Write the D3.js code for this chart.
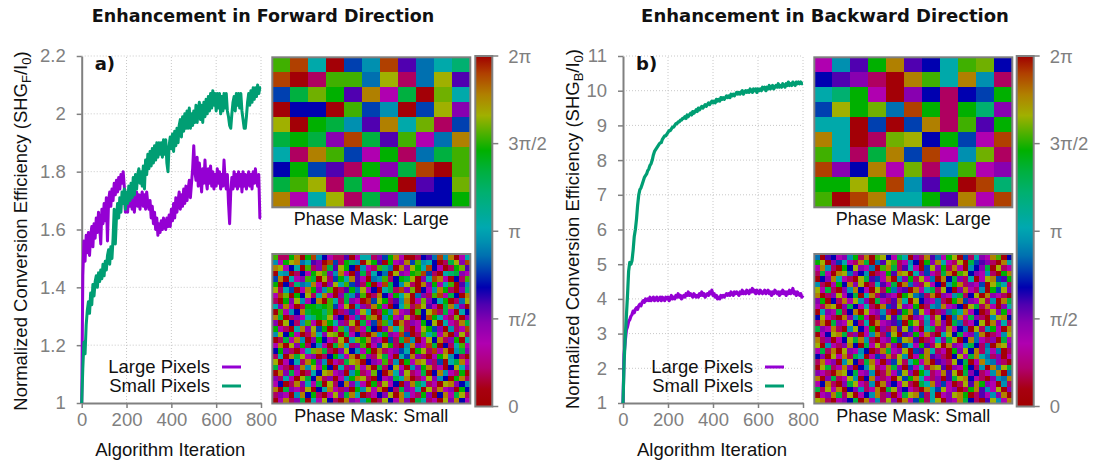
<!DOCTYPE html>
<html><head><meta charset="utf-8">
<script src="https://cdn.jsdelivr.net/npm/d3@7"></script>
<style>
html,body{margin:0;padding:0;background:#fff;}
svg{display:block;font-family:"Liberation Sans",Arial,sans-serif;}
</style></head><body>
<svg id="chart" width="1096" height="466"></svg>
<script>
// ---------- data ----------
const iterations = d3.range(0, 801, 5);

// Forward direction, normalized SHG efficiency
const fwdLarge = [
1.00,1.44,1.56,1.49,1.58,1.52,1.59,1.51,1.58,1.61,
1.54,1.62,1.57,1.64,1.59,1.66,1.61,1.55,1.67,1.62,
1.69,1.63,1.71,1.56,1.70,1.73,1.68,1.74,1.70,1.76,
1.72,1.77,1.73,1.78,1.74,1.79,1.76,1.80,1.75,1.66,
1.71,1.66,1.72,1.68,1.73,1.67,1.72,1.66,1.71,1.73,
1.68,1.72,1.67,1.71,1.73,1.68,1.72,1.67,1.73,1.69,
1.67,1.70,1.64,1.68,1.62,1.66,1.60,1.64,1.58,1.62,
1.59,1.63,1.60,1.64,1.61,1.60,1.64,1.61,1.65,1.61,
1.67,1.63,1.69,1.64,1.71,1.66,1.70,1.73,1.67,1.72,
1.68,1.74,1.69,1.75,1.70,1.74,1.77,1.71,1.76,1.81,
1.89,1.80,1.77,1.85,1.75,1.83,1.78,1.73,1.81,1.76,
1.84,1.77,1.74,1.81,1.76,1.82,1.75,1.80,1.74,1.79,
1.75,1.81,1.76,1.80,1.74,1.79,1.75,1.84,1.77,1.74,
1.79,1.69,1.62,1.73,1.78,1.74,1.80,1.75,1.79,1.74,
1.80,1.75,1.79,1.73,1.80,1.75,1.79,1.74,1.78,1.80,
1.75,1.79,1.74,1.80,1.76,1.81,1.77,1.75,1.79,1.64,1.64];
const fwdSmall = [
1.00,1.12,1.21,1.17,1.27,1.32,1.35,1.31,1.38,1.34,
1.41,1.37,1.42,1.44,1.40,1.45,1.42,1.46,1.43,1.48,
1.44,1.49,1.46,1.51,1.53,1.48,1.54,1.50,1.57,1.67,
1.55,1.64,1.69,1.64,1.71,1.66,1.73,1.69,1.74,1.67,
1.73,1.69,1.75,1.70,1.76,1.71,1.78,1.72,1.79,1.74,
1.79,1.81,1.76,1.80,1.75,1.82,1.74,1.84,1.79,1.86,
1.81,1.87,1.82,1.88,1.83,1.89,1.84,1.90,1.85,1.90,
1.86,1.90,1.85,1.91,1.86,1.91,1.83,1.80,1.89,1.92,
1.88,1.93,1.87,1.94,1.89,1.95,1.90,1.96,1.98,1.92,
1.99,1.94,2.00,1.95,2.01,1.95,2.02,1.95,2.00,1.96,
2.01,1.97,2.03,1.97,2.01,2.04,1.98,2.03,1.97,2.04,
1.99,2.05,2.00,2.06,2.01,2.07,2.02,2.08,2.03,2.07,
2.01,2.07,2.02,2.07,2.00,2.06,2.01,2.07,2.02,2.07,
2.01,1.99,1.96,1.95,2.00,2.04,2.06,2.01,2.07,2.03,
2.07,2.02,2.07,2.01,1.98,1.95,1.95,1.99,2.04,2.07,
2.03,2.08,2.04,2.09,2.05,2.09,2.06,2.10,2.07,2.09,2.09];

// Backward direction, normalized SHG efficiency
const bwdLarge = [
1.00,2.40,2.80,3.10,3.20,3.35,3.40,3.50,3.55,3.65,
3.60,3.70,3.75,3.70,3.80,3.85,3.80,3.90,3.95,3.90,
4.00,3.95,4.00,3.95,4.05,3.95,4.00,4.05,3.95,4.00,
4.05,3.95,4.00,4.05,3.95,4.05,4.00,3.95,4.05,4.00,
4.05,3.95,4.00,4.10,4.00,4.05,4.00,4.10,4.05,4.15,
4.05,4.10,4.00,4.05,4.10,4.05,4.15,4.10,4.20,4.10,
4.15,4.10,4.05,4.15,4.10,4.05,4.10,4.05,4.15,4.10,
4.20,4.10,4.15,4.05,4.10,4.15,4.10,4.20,4.15,4.25,
4.10,4.15,4.05,4.10,4.00,4.05,4.00,4.10,4.05,4.10,
4.05,4.10,4.15,4.10,4.15,4.10,4.20,4.15,4.10,4.20,
4.15,4.20,4.15,4.10,4.20,4.15,4.25,4.15,4.20,4.15,
4.25,4.20,4.15,4.25,4.20,4.30,4.20,4.25,4.15,4.25,
4.20,4.15,4.25,4.20,4.15,4.20,4.25,4.15,4.20,4.25,
4.15,4.20,4.10,4.20,4.15,4.25,4.20,4.15,4.20,4.10,
4.20,4.15,4.25,4.15,4.20,4.10,4.20,4.15,4.25,4.15,
4.20,4.30,4.15,4.20,4.10,4.20,4.15,4.10,4.15,4.05,4.10];
const bwdSmall = [
1.00,2.20,2.90,3.50,4.10,4.80,5.05,5.00,5.10,5.40,
5.80,6.00,6.30,6.70,7.00,7.15,7.20,7.30,7.40,7.50,
7.55,7.60,7.70,7.75,7.85,7.90,8.00,8.15,8.25,8.30,
8.35,8.40,8.45,8.50,8.50,8.60,8.65,8.70,8.70,8.75,
8.80,8.85,8.85,8.90,8.95,8.95,9.00,9.05,9.05,9.10,
9.10,9.15,9.15,9.20,9.20,9.25,9.20,9.30,9.25,9.30,
9.35,9.30,9.40,9.35,9.40,9.45,9.40,9.50,9.45,9.50,
9.55,9.50,9.55,9.60,9.55,9.60,9.65,9.60,9.65,9.70,
9.65,9.70,9.65,9.75,9.70,9.75,9.70,9.80,9.75,9.80,
9.75,9.80,9.85,9.80,9.85,9.80,9.90,9.85,9.90,9.85,
9.90,9.95,9.90,9.95,9.90,9.95,10.00,9.90,9.95,10.00,
9.95,10.00,9.95,10.05,10.00,9.95,10.05,10.00,10.05,9.95,
10.05,10.00,10.05,10.00,10.10,10.05,10.10,10.00,10.10,10.05,
10.15,10.05,10.10,10.15,10.05,10.10,10.15,10.10,10.20,10.10,
10.15,10.10,10.20,10.15,10.10,10.20,10.15,10.25,10.15,10.20,
10.15,10.25,10.20,10.15,10.25,10.20,10.25,10.20,10.25,10.20,10.20];

const seriesNames = ["Large Pixels", "Small Pixels"];
const xTickValues = [0, 200, 400, 600, 800];
const yTicksFwd = [1, 1.2, 1.4, 1.6, 1.8, 2, 2.2];
const yTickLabelsFwd = ["1", "1.2", "1.4", "1.6", "1.8", "2", "2.2"];
const yTicksBwd = [1, 2, 3, 4, 5, 6, 7, 8, 9, 10, 11];
const yTickLabelsBwd = ["1","2","3","4","5","6","7","8","9","10","11"];
const phaseTickValues = [0, 0.25, 0.5, 0.75, 1];       // fraction of 2π
const phaseTickLabels = ["0", "π/2", "π", "3π/2", "2π"];

// phase codes: letter -> phase as a fraction of 2π
const phaseCodes = {R:0.02,K:0.10,M:0.18,V:0.24,P:0.29,B:0.34,b:0.39,S:0.43,t:0.47,
  T:0.52,E:0.61,g:0.67,G:0.73,L:0.77,l:0.80,Y:0.83,C:0.89,O:0.95};

// 11 x 10 phase masks (large pixels)
const maskLargeFwd = [
"LOTRbtOPSTE","ORKLLSYKSYP","bglGPCMgRlT","RBBRLbtRbYV","YRGgtPCTlKb",
"gGgVOgPLMSC","TKCLbMGKSgL","BGbPKGVgORL","gLYKgMGRPBl","CMTYKgVSBBG"];
const maskLargeBwd = [
"MtPGCPBTLlB","BPVKRCLTCtK","TEGMRVBKBbG","bYGlSOGKGEV","TTRbRbCKLPG",
"CTRKlYBGbMO","LTKgCbOMtlK","OVBCMlKtLMV","GGYGOtPGROE","LROCTTGPCMO"];

// 36 x 27 phase masks (small pixels)
const maskSmallFwd = [
"LKKGCRGOtBMKKPRMTTKVbGCMRRKBPSOtCRMT","tMGYCSTPVRObKGEtRYGPRGMVCbLtTBRKgYVO",
"CYMBTRLKVOgPYGBRtMKLESRCVYGTOBMRKGlP","RTtRKBMGYLVtCMRPgKTBSRYVMGLObKRTEgVM",
"bCRTMVLgRYKbGTCPMRStLKBGgYRVTOCMRBKL","GRBKEStCMRVYTLbPKGRMOgBtYKRCVGMTLRPt",
"YKTbRMCGVtLRKPGSYMBRTgKOVlRBMtCGKRVE","MOlRGBYKTCMRVgtPLRKCBMGTYRSVKLOMgBRC",
"KRGVYtMBCRLTKgVMRObYGKPtCRMlVBTGRKSY","TVCMRKGGgGLbMYRtVKCGMRBTlKOYPMRgCtVR",
"RLMtBCgGGELRKVbMYTRKGtCMVRLBYOKgMRTB","CgRKVMTEGgYVBRMSKLCRtGMVYKRBOGTMKlRV",
"VRYBKtLMRCGTVKYRgMbOLtRCKVMGBYRTMKCg","GMKRTCVYbGRMLtKOMgBRVCTlKRMYGbVRtKMO",
"tYBGMRKCTVYlRgMBKRCtGVMObRKLTgMCRVYK","RKgMCtRVGBMKYRTlGCVMRbKgOtRMYBCKVGRT",
"MCRYVGKBtMRgCTKVLRMbYGKRtCVMOgRBKTLM","BGVKRMTlCgKRVYBtMGRCKMVbTRGYKOMCRtgV",
"KTRCgYMVRKBGtMCRLVKYgMRTbCVKRMGYtBKR","YRMBTKCGVtRMKgYCRBVMLKtRGMCYVKbRTgCM",
"gMKRVCtYMGBRTKVlMCRgKBYMRtVGCKMRBYTV","RCVgMRKTBYCMVRtGKMlBRCTVYKMgRBCtMKGR",
"VKTMRYgBCKVRMtGCYKRBMVgTCRKMYVtBRGCK","MBRKCVTMgRYKBCVtMRGKYMBRVCgTKMRYCVBt",
"CRgVMKYRBTCMKVRGtYMCRBKgVMTRYKCMVRGB","KVMRtCBGKRMYVgCTRKMBVYRCtMKGVRBCMgYK",
"RMCKVgRTMYBKRCVMtGRKYBMCVRgTKMRYVCBM"];
const maskSmallBwd = [
"SRPBMVtGKCRLYBMgTRVKCPSMGYRbKTVMCLRB","GYRVbTMKCgRSPYLKMtBRGVCTMKYRgbPVKRCT",
"MCtKRGBYVMSRLCgKPTMRbYVGKCMRtBVgRYKM","KgMRCYSVBtRKMGPCYRTVbMKgCRLYBVMtKRGC",
"RBVCTMKRYgPbMCRtVGKYMSRCBgVKTRMYCbPG","tKRMGBCVYRKTPMgRCSVKYMBRtGCKVMbRYgTK",
"YMgKRVtCBMRYKGSVPRCMTgKYBRVCMKtRGbYV","CRKVYMBgRTCKPVMRGYSbKCRVMtgKBYRCVMKR",
"VGRBKCMYtVRgMKPCTRYBVMSKRGCbVMYKtRCg","MKCYRVgBMTKRCbPYVMGRKtSCMVBRYgKCMRVT",
"RTVMgKBCRYMVtKRPGCbYMRKVSgTCMBRKYVGM","BYMKRCVtGMRKbYPgCRVMTKYBRSCMgVKRtYCB",
"KCRgVMYBKTRCMVPbRGYKtMCVRgSKMBYRCVTK","gVMCKRtYBMGRVKCPYbMRTgKVCMBSRYKtGMRC",
"RMBYCgKVRMtCKbYRPVGMCKRTYBgMVSCRKMtY","CKVRMBYgCtKRMVGbYCPRKMTVgYRBCSMKVRgM",
"YRtMKVCBRgMYKCVRbTMGPKYRCVMtgBKSRCYV","MgKCRYVMtBRKCgMVYRbPCTKMRGVYBCKtMSRK",
"BVRYMCKgTRMbVCKYtRMGCPVKRBYMgCTSKVRM","KCMVRtYBKgCMRVbYKTGMCRPVKYBgRMCtSVKR",
"RYgKMCVRBtYKMCgVRbMTKCYPRVMGBKtRCSYg","VMKRCYBgMVtRKCMbYVRGTKMCPYRgVBKMtCRS",
"CRVgKMYtRBCVKMRYbGCTMKVRPgYCBMKRVtSC","MBCKRVgYMKtRCVBMYKRgTCVbMRKYPCGVMRtK",
"gKYMCRBVtKMCRgYVBMKRCTbYMVRKGCPtMYRV","RMVCgKYRMBtCKVRMgYCbKTRMVYCGRKPMtVCR",
"YCKRMVBgRCMtKYVRCMbGKTYRVMCgBKRPYtMC"];

// cyclic phase palette (0 -> 2π)
const paletteStops  = [0, 0.05, 0.11, 0.18, 0.24, 0.29, 0.34, 0.39, 0.43, 0.47, 0.51, 0.61, 0.67, 0.73, 0.78, 0.83, 0.89, 0.95, 1];
const paletteColors = ["#a00000","#a80010","#b00070","#b000b0","#8800b0","#5000b0","#0000b0","#0040b0","#0070b0","#0090b0","#00a8b0","#00b070","#00b040","#00b000","#50b000","#a0b000","#b08000","#b04000","#a00000"];

// ---------- drawing ----------
const svg = d3.select("#chart");
const phaseColor = d3.scaleLinear().domain(paletteStops).range(paletteColors).interpolate(d3.interpolateRgb);
const GRAY = "#808080";
const lineColors = ["#9400d3", "#009e73"];

// gradient shared by both colour bars
const grad = svg.append("defs").append("linearGradient")
  .attr("id", "phaseGrad").attr("x1", 0).attr("y1", 1).attr("x2", 0).attr("y2", 0);
d3.range(0, 1.0001, 0.01).forEach(t =>
  grad.append("stop").attr("offset", t).attr("stop-color", phaseColor(t)));

function drawPanel(p) {
  const g = svg.append("g");
  const x = d3.scaleLinear([0, 800], [p.x0, p.x1]);
  const y = d3.scaleLinear(p.yDomain, [403, 56]);

  // dotted grid
  g.selectAll(".gx").data(xTickValues.slice(1)).join("line")
    .attr("x1", d => x(d)).attr("x2", d => x(d)).attr("y1", y.range()[0]).attr("y2", y.range()[1])
    .attr("stroke", "#c8c8c8").attr("stroke-width", 1).attr("stroke-dasharray", "1,2");
  g.selectAll(".gy").data(p.yTicks.slice(1)).join("line")
    .attr("x1", x.range()[0]).attr("x2", x.range()[1]).attr("y1", d => y(d)).attr("y2", d => y(d))
    .attr("stroke", "#c8c8c8").attr("stroke-width", 1).attr("stroke-dasharray", "1,2");

  // axes
  const ax = g.append("g").attr("transform", `translate(0,${y.range()[0]})`)
    .call(d3.axisBottom(x).tickValues(xTickValues).tickSize(5).tickSizeOuter(0).tickPadding(5));
  const ay = g.append("g").attr("transform", `translate(${x.range()[0]},0)`)
    .call(d3.axisLeft(y).tickValues(p.yTicks).tickFormat((d, i) => p.yLabels[i])
      .tickSize(5).tickSizeOuter(0).tickPadding(11));
  [ax, ay].forEach(a => {
    a.select(".domain").attr("stroke", GRAY).attr("stroke-width", 2);
    a.selectAll(".tick line").attr("stroke", GRAY).attr("stroke-width", 1.5);
    a.selectAll(".tick text").attr("fill", GRAY).attr("font-size", 18.5)
      .attr("font-family", '"Liberation Sans", Arial, sans-serif');
  });

  // data lines
  const line = d3.line().x((d, i) => x(iterations[i])).y(d => y(d));
  p.series.forEach((s, k) => {
    g.append("path").datum(s).attr("d", line).attr("fill", "none")
      .attr("stroke", lineColors[k]).attr("stroke-width", p.lw).attr("stroke-linejoin", "round");
  });

  // legend
  seriesNames.forEach((name, k) => {
    const ly = 367 + k * 19;
    g.append("text").attr("x", p.legX).attr("y", ly + 6).attr("text-anchor", "end")
      .attr("font-size", 18.5).attr("fill", "#111").text(name);
    g.append("line").attr("x1", p.legX + 12).attr("x2", p.legX + 31).attr("y1", ly).attr("y2", ly)
      .attr("stroke", lineColors[k]).attr("stroke-width", 3);
  });

  // panel letter
  g.append("text").attr("x", p.x0 + 13).attr("y", 70).attr("font-family", '"DejaVu Sans", sans-serif')
    .attr("font-weight", "bold").attr("font-size", 18).attr("fill", "#111").text(p.letter);

  // axis titles
  g.append("text").attr("x", (p.x0 + p.x1) / 2 - 1).attr("y", 456).attr("text-anchor", "middle")
    .attr("font-size", 18.5).attr("fill", "#111").text("Algorithm Iteration");
  const yt = g.append("text").attr("transform", `translate(${p.yTitleX},${p.yTitleY}) rotate(-90)`)
    .attr("text-anchor", "middle").attr("font-size", 18.5).attr("fill", "#111");
  yt.append("tspan").text("Normalized Conversion Efficiency (SHG");
  yt.append("tspan").attr("font-size", 13).attr("dy", 4).text(p.sub);
  yt.append("tspan").attr("dy", -4).text("/I");
  yt.append("tspan").attr("font-size", 13).attr("dy", 4).text("0");
  yt.append("tspan").attr("dy", -4).text(")");

  // title
  g.append("text").attr("x", p.titleX).attr("y", 22).attr("text-anchor", "middle")
    .attr("font-family", '"DejaVu Sans", sans-serif').attr("font-weight", "bold")
    .attr("font-size", p.titleSize).attr("fill", "#111").text(p.title);

  // phase masks
  drawMask(g, p.maskLarge, p.mx, 57.3, 198, 150);
  g.append("text").attr("x", p.mx + 99).attr("y", 225).attr("text-anchor", "middle")
    .attr("font-size", 18).attr("fill", "#111").text("Phase Mask: Large");
  drawMask(g, p.maskSmall, p.mx, 254, 198, 149.5);
  g.append("text").attr("x", p.mx + 99).attr("y", 421.5).attr("text-anchor", "middle")
    .attr("font-size", 18).attr("fill", "#111").text("Phase Mask: Small");

  // colour bar
  const cy = d3.scaleLinear([0, 1], [406.5, 56]);
  g.append("rect").attr("x", p.cbx).attr("y", cy(1)).attr("width", 17).attr("height", cy(0) - cy(1))
    .attr("fill", "url(#phaseGrad)").attr("stroke", GRAY).attr("stroke-width", 2);
  g.selectAll(".cbt").data(phaseTickValues).join("line")
    .attr("x1", p.cbx + 17).attr("x2", p.cbx + 23).attr("y1", d => cy(d)).attr("y2", d => cy(d))
    .attr("stroke", GRAY).attr("stroke-width", 1.5);
  g.selectAll(".cbl").data(phaseTickValues).join("text")
    .attr("x", p.cbx + 33).attr("y", d => cy(d)).attr("dy", "0.36em")
    .attr("font-size", 18.5).attr("fill", GRAY).text((d, i) => phaseTickLabels[i]);
}

function drawMask(g, rows, mx, my, w, h) {
  const nr = rows.length, nc = rows[0].length;
  const cx = d3.scaleLinear([0, nc], [mx, mx + w]);
  const cyy = d3.scaleLinear([0, nr], [my, my + h]);
  const cells = [];
  rows.forEach((row, r) => row.split("").forEach((c, k) => cells.push({r, k, v: phaseCodes[c]})));
  const mg = g.append("g").attr("shape-rendering", "crispEdges");
  mg.selectAll("rect").data(cells).join("rect")
    .attr("x", d => cx(d.k)).attr("y", d => cyy(d.r))
    .attr("width", cx(1) - cx(0) + 0.6).attr("height", cyy(1) - cyy(0) + 0.6)
    .attr("fill", d => phaseColor(d.v));
  g.append("rect").attr("x", mx).attr("y", my).attr("width", w).attr("height", h)
    .attr("fill", "none").attr("stroke", GRAY).attr("stroke-width", 2);
}

drawPanel({
  x0: 81.7, x1: 261, yDomain: [1, 2.2], yTicks: yTicksFwd, yLabels: yTickLabelsFwd,
  series: [fwdLarge, fwdSmall], lw: 3, legX: 210, letter: "a)", sub: "F",
  yTitleX: 27, yTitleY: 231, title: "Enhancement in Forward Direction", titleX: 263, titleSize: 17.5,
  maskLarge: maskLargeFwd, maskSmall: maskSmallFwd, mx: 272.3, cbx: 475.3
});
drawPanel({
  x0: 623, x1: 803, yDomain: [1, 11], yTicks: yTicksBwd, yLabels: yTickLabelsBwd,
  series: [bwdLarge, bwdSmall], lw: 3.2, legX: 753, letter: "b)", sub: "B",
  yTitleX: 579, yTitleY: 229, title: "Enhancement in Backward Direction", titleX: 825, titleSize: 18,
  maskLarge: maskLargeBwd, maskSmall: maskSmallBwd, mx: 814.3, cbx: 1016.7
});
</script></body></html>
